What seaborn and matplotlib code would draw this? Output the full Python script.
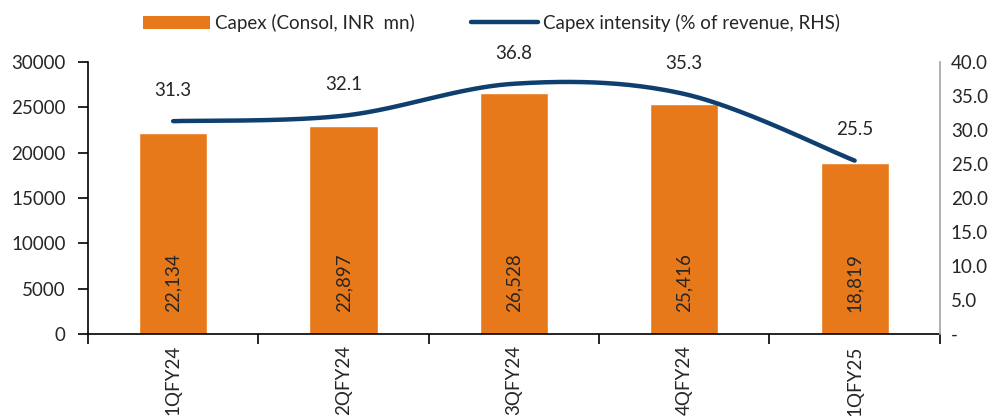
import numpy as np
import pandas as pd
import matplotlib
matplotlib.use("Agg")
import matplotlib.pyplot as plt
from matplotlib.lines import Line2D
from matplotlib.patches import Patch
import seaborn as sns

quarters = ["1QFY24", "2QFY24", "3QFY24", "4QFY24", "1QFY25"]
capex = [22134, 22897, 26528, 25416, 18819]
intensity = [31.3, 32.1, 36.8, 35.3, 25.5]
left_ticks = [0, 5000, 10000, 15000, 20000, 25000, 30000]
right_ticks = [0, 5, 10, 15, 20, 25, 30, 35, 40]

BAR_COLOR = "#E8791A"
LINE_COLOR = "#0E3F6E"

sns.set_theme(style="white")
plt.rcParams["font.family"] = ["Lato", "DejaVu Sans"]
FS = 13.5

df = pd.DataFrame({"quarter": quarters, "capex": capex})

fig = plt.figure(figsize=(10.03, 4.16), dpi=100)
ax = fig.add_axes([0.0877, 0.197, 0.8493, 0.654])

sns.barplot(data=df, x="quarter", y="capex", color=BAR_COLOR, width=0.4,
            saturation=1, ax=ax, zorder=2)
ax.set_xlim(-0.5, len(quarters) - 0.5)
ax.set_ylim(0, 30000)
ax.set_yticks(left_ticks)
ax.set_yticklabels([str(v) for v in left_ticks], fontsize=FS)
ax.set_xlabel("")
ax.set_ylabel("")

# category boundaries carry the tick marks, centres carry the labels
ax.set_xticks(np.arange(-0.5, len(quarters)), labels=[""] * (len(quarters) + 1))
ax.set_xticks(np.arange(len(quarters)), minor=True)
ax.set_xticklabels(quarters, minor=True, rotation=90, fontsize=FS, va="top")
ax.tick_params(axis="x", which="major", length=7, width=1.2, color="black",
               direction="out", bottom=True)
ax.tick_params(axis="x", which="minor", length=0, pad=8, bottom=True)
ax.tick_params(axis="y", length=7, width=1.2, color="black", direction="out",
               left=True, pad=9)

for side in ["top", "right"]:
    ax.spines[side].set_visible(False)
for side in ["left", "bottom"]:
    ax.spines[side].set_color("black")
    ax.spines[side].set_linewidth(1.2)

for i, v in enumerate(capex):
    ax.annotate(f"{v:,}", xy=(i, 0), xytext=(0, 16), textcoords="offset points",
                rotation=90, ha="center", va="bottom", fontsize=FS)

# secondary axis for capex intensity
ax2 = ax.twinx()
ax2.set_ylim(0, 40)
ax2.set_yticks(right_ticks)
ax2.set_yticklabels(["-" if v == 0 else f"{v:.1f}" for v in right_ticks], fontsize=FS)
ax2.tick_params(axis="y", length=0, pad=8, right=True)
for side in ["top", "left", "bottom"]:
    ax2.spines[side].set_visible(False)
ax2.spines["right"].set_color("#A6A6A6")
ax2.spines["right"].set_linewidth(1.2)
ax2.grid(False)
ax.grid(False)

# smoothed line through the points (Catmull-Rom as cubic Bezier segments)
xs = np.arange(len(intensity), dtype=float)
ys = np.array(intensity, dtype=float)
pts = np.column_stack([xs, ys])
curve = []
t = np.linspace(0, 1, 60)
for i in range(len(pts) - 1):
    p0 = pts[i - 1] if i > 0 else pts[i]
    p1 = pts[i]
    p2 = pts[i + 1]
    p3 = pts[i + 2] if i + 2 < len(pts) else pts[i + 1]
    c1 = p1 + (p2 - p0) / 6
    c2 = p2 - (p3 - p1) / 6
    seg = ((1 - t) ** 3)[:, None] * p1 + (3 * (1 - t) ** 2 * t)[:, None] * c1 \
        + (3 * (1 - t) * t ** 2)[:, None] * c2 + (t ** 3)[:, None] * p2
    curve.append(seg if i == 0 else seg[1:])
curve = np.vstack(curve)
ax2.plot(curve[:, 0], curve[:, 1], color=LINE_COLOR, lw=3.2,
         solid_capstyle="round", zorder=3)

for i, v in enumerate(intensity):
    ax2.annotate(f"{v:.1f}", xy=(i, v), xytext=(0, 16), textcoords="offset points",
                 ha="center", va="bottom", fontsize=FS)

handles = [Patch(facecolor=BAR_COLOR, edgecolor="none"),
           Line2D([0], [0], color=LINE_COLOR, lw=3.2)]
labels = ["Capex (Consol, INR  mn)", "Capex intensity (% of revenue, RHS)"]
fig.legend(handles, labels, loc="center", bbox_to_anchor=(0.49, 0.945), ncol=2,
           frameon=False, fontsize=FS, handlelength=3.6, handletextpad=0.25,
           columnspacing=3.0)

fig.savefig("out.png", dpi=100)
